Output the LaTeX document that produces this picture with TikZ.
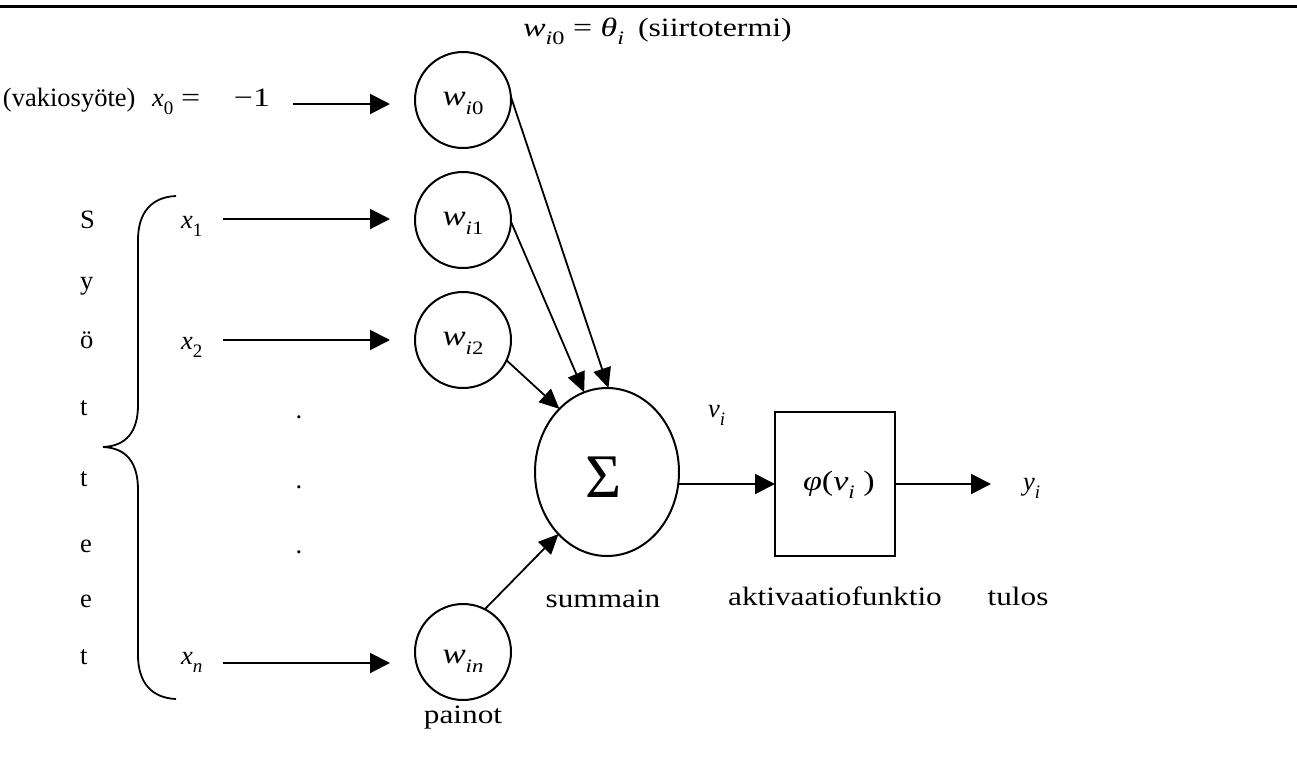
\documentclass[tikz,border=0pt]{standalone}
\usepackage{fontspec}
\setmainfont{Liberation Serif}
\usepackage{graphicx}
\usetikzlibrary{arrows.meta,shapes.geometric}
\newcommand\sbi[1]{\raisebox{-0.32em}{\fontsize{9.5}{9.5}\selectfont #1}}
\newcommand\hs[1]{\scalebox{1.18}[1]{#1}}
\newcommand\ms[1]{\scalebox{1.28}[1]{#1}}
\begin{document}
\begin{tikzpicture}[x=0.5pt,y=-0.5pt,
  every node/.style={inner sep=0pt, outer sep=0pt},
  lbl/.style={font=\fontsize{13.25}{16}\selectfont},
  wlbl/.style={font=\fontsize{14.5}{16}\selectfont, anchor=base},
  wcirc/.style={circle, draw, line width=1pt, minimum size=48pt},
  sumnode/.style={ellipse, draw, line width=1pt, minimum width=72pt, minimum height=84pt},
  actbox/.style={rectangle, draw, line width=1pt, minimum width=60pt, minimum height=72pt},
  arr/.style={line width=1pt, -{Triangle[length=10pt,width=10pt]}},
  darr/.style={line width=0.9pt, -{Triangle[length=10pt,width=9pt]}},
  bracestyle/.style={line width=0.9pt},
]
\useasboundingbox (0,0) rectangle (1297,756);
\draw[line width=1.5pt] (0,6) -- (1297,6);

% top label
\node[lbl, anchor=base west] (bias) at (523,36) {\ms{\textit{w}\sbi{\textit{i}0} = \textit{θ}\sbi{\textit{i}}}};
\node[lbl, anchor=base west] (biastxt) at (638,36) {\scalebox{1.2}[1]{(siirtotermi)}};

% weight circles
\node[wcirc] (w0) at (463,100) {};
\node[wcirc] (w1) at (463,220) {};
\node[wcirc] (w2) at (463,340) {};
\node[wcirc] (wn) at (463,652) {};
\node[wlbl] (w0t) at (463,105) {\scalebox{1.2}[1]{\textit{w}\sbi{\textit{i}0}}};
\node[wlbl] (w1t) at (463,225) {\scalebox{1.2}[1]{\textit{w}\sbi{\textit{i}1}}};
\node[wlbl] (w2t) at (463,345) {\scalebox{1.2}[1]{\textit{w}\sbi{\textit{i}2}}};
\node[wlbl] (wnt) at (463,663) {\scalebox{1.2}[1]{\textit{w}\sbi{\textit{in}}}};

% inputs
\node[lbl, anchor=base west] (vak) at (3,106) {(vakiosyöte)};
\node[lbl, anchor=base west] (x0) at (152,106) {\textit{x}\sbi{0}};
\node[lbl, anchor=base west] (eq0) at (181,106) {\ms{=}};
\node[lbl, anchor=base east] (m1) at (270,106) {\ms{−1}};
\node[lbl, anchor=base west] (x1) at (181,228) {\textit{x}\sbi{1}};
\node[lbl, anchor=base west] (x2) at (181,349) {\textit{x}\sbi{2}};
\node[lbl, anchor=base west] (xn) at (181,664) {\textit{x}\sbi{\textit{n}}};

\coordinate (a0s) at (293,104); \coordinate (a0e) at (390,104);
\coordinate (a1s) at (223,219); \coordinate (a1e) at (390,219);
\coordinate (a2s) at (223,340); \coordinate (a2e) at (390,340);
\coordinate (ans) at (223,663); \coordinate (ane) at (390,663);
\draw[arr] (a0s) -- (a0e);
\draw[arr] (a1s) -- (a1e);
\draw[arr] (a2s) -- (a2e);
\draw[arr] (ans) -- (ane);

% dots
\node[lbl, anchor=base] (d1) at (299,418) {.};
\node[lbl, anchor=base] (d2) at (299,488) {.};
\node[lbl, anchor=base] (d3) at (299,553) {.};

% vertical word
\node[lbl, anchor=base west] (L1) at (80,228) {S};
\node[lbl, anchor=base west] (L2) at (80,289) {y};
\node[lbl, anchor=base west] (L3) at (80,348) {ö};
\node[lbl, anchor=base west] (L4) at (80,415) {t};
\node[lbl, anchor=base west] (L5) at (80,486) {t};
\node[lbl, anchor=base west] (L6) at (80,552) {e};
\node[lbl, anchor=base west] (L7) at (80,607) {e};
\node[lbl, anchor=base west] (L8) at (80,664) {t};

% brace
\draw[bracestyle] (176,196) .. controls (152,197) and (138,212) .. (138,240) -- (138,405)
  .. controls (138,432) and (126,446) .. (103,447)
  .. controls (126,448) and (138,462) .. (138,490) -- (138,655)
  .. controls (138,683) and (152,698) .. (176,699);

% summing junction and activation
\node[sumnode] (s) at (607,472) {};
\node[font=\fontsize{31}{31}\selectfont] (sig) at (604,477) {Σ};
\node[actbox] (b) at (835,484) {};
\node[lbl, anchor=base west, font=\fontsize{14}{16}\selectfont] (phi) at (803,490) {\scalebox{1.22}[1]{\textit{φ}(\textit{v}\sbi{\textit{i}}\ )}};
\coordinate (yo) at (991,484);

\draw[darr] (w0.4) -- (s.89);
\draw[darr] (w1.-2) -- (s.106);
\draw[darr] (w2.-25) -- (s.127);
\draw[darr] (wn.63) -- (s.232);
\draw[arr] (s.east |- b.west) -- (b.west);
\draw[arr] (b.east) -- (yo);

\node[lbl, anchor=base west] (vi) at (708,417) {\textit{v}\sbi{\textit{i}}};
\node[lbl, anchor=base west] (yi) at (1023,490) {\textit{y}\sbi{\textit{i}}};

% captions
\node[lbl, anchor=base] (c1) at (603,607) {\hs{summain}};
\node[lbl, anchor=base] (c2) at (835,605) {\hs{aktivaatiofunktio}};
\node[lbl, anchor=base] (c3) at (1018,605) {\hs{tulos}};
\node[lbl, anchor=base] (c4) at (463,723) {\hs{painot}};
\end{tikzpicture}
\end{document}
